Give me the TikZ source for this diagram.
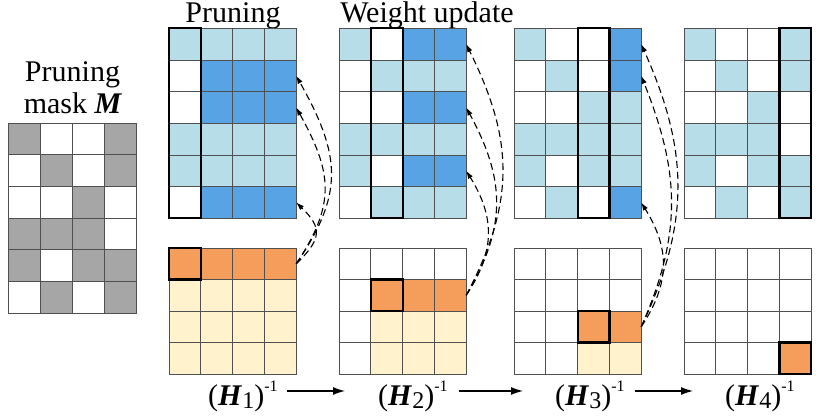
\documentclass[tikz,border=0pt]{standalone}
\usepackage{fontspec}
\setmainfont{Liberation Serif}
\usetikzlibrary{arrows.meta,calc}
\definecolor{cL}{HTML}{B7DDE8}
\definecolor{cD}{HTML}{58A3E4}
\definecolor{cW}{HTML}{FFFFFF}
\definecolor{cG}{HTML}{A6A6A6}
\definecolor{cO}{HTML}{F59E5B}
\definecolor{cC}{HTML}{FFF2CC}
\definecolor{gridc}{HTML}{505050}
% #1 x0, #2 y0, #3 cell width, #4 cell height, #5 rows of colour letters
\newcommand\cellgrid[5]{%
  \foreach \rowlist [count=\r] in {#5} {
    \foreach \c [count=\k] in \rowlist {
      \filldraw[cellline, fill=c\c] ({#1+(\k-1)*#3},{#2+(\r-1)*#4}) rectangle ++(#3,#4);
    }
  }
}
\newcommand\hlabel[1]{(\textbf{\textit{H}}\raisebox{-3pt}{\fontsize{24}{24}\selectfont #1})\raisebox{14pt}{\fontsize{16}{16}\selectfont -1}}
\begin{document}
\begin{tikzpicture}[x=1pt,y=-1pt,
  cellline/.style={draw=gridc,line width=0.7pt},
  boldbox/.style={draw=black,line width=2.2pt},
  upd/.style={dash pattern=on 7pt off 4pt,line width=1.1pt,-{Latex[length=8pt,width=5.5pt]}},
  harrow/.style={line width=1.2pt,-{Latex[length=12pt,width=8pt]}},
  lbl/.style={font=\fontsize{30}{32}\selectfont,inner sep=0pt}]
\useasboundingbox (0,0) rectangle (830,419);

% titles
\node[lbl,anchor=base] (tm1) at (72.5,82) {Pruning};
\node[lbl,anchor=base] (tm2) at (73,114) {mask \textbf{\textit{M}}};
\node[lbl,anchor=base] (tp) at (233,23) {Pruning};
\node[lbl,anchor=base] (tw) at (427,23) {Weight update};

% mask
\cellgrid{8}{123}{32}{31.67}{{G,W,W,G},{W,G,W,G},{W,W,G,W},{G,G,G,W},{G,W,G,G},{W,G,W,G}}

% top grids
\cellgrid{169}{28.3}{31.8}{31.67}{{L,L,L,L},{W,D,D,D},{W,D,D,D},{L,L,L,L},{L,L,L,L},{W,D,D,D}}
\cellgrid{339}{28.3}{31.8}{31.67}{{L,W,D,D},{W,L,L,L},{W,W,D,D},{L,L,L,L},{L,W,D,D},{W,L,L,L}}
\cellgrid{514}{28.3}{31.8}{31.67}{{L,W,W,D},{W,L,W,D},{W,W,L,L},{L,L,L,L},{L,W,L,L},{W,L,W,D}}
\cellgrid{684}{28.3}{31.8}{31.67}{{L,W,W,L},{W,L,W,L},{W,W,L,W},{L,L,L,W},{L,W,L,L},{W,L,W,L}}
\draw[boldbox] (169,28.3) rectangle ++(31.8,190);
\draw[boldbox] (370.8,28.3) rectangle ++(31.8,190);
\draw[boldbox] (577.6,28.3) rectangle ++(31.8,190);
\draw[boldbox] (779.4,28.3) rectangle ++(31.8,190);

% bottom grids
\cellgrid{169}{248}{31.8}{31.5}{{O,O,O,O},{C,C,C,C},{C,C,C,C},{C,C,C,C}}
\cellgrid{339}{248}{31.8}{31.5}{{W,W,W,W},{W,O,O,O},{W,C,C,C},{W,C,C,C}}
\cellgrid{514}{248}{31.8}{31.5}{{W,W,W,W},{W,W,W,W},{W,W,O,O},{W,W,C,C}}
\cellgrid{684}{248}{31.8}{31.5}{{W,W,W,W},{W,W,W,W},{W,W,W,W},{W,W,W,O}}
\draw[boldbox] (169,248) rectangle ++(31.8,31.5);
\draw[boldbox] (370.8,279.5) rectangle ++(31.8,31.5);
\draw[boldbox] (577.6,311) rectangle ++(31.8,31.5);
\draw[boldbox] (779.4,342.5) rectangle ++(31.8,31.5);

% arrow end points
\coordinate (s1) at (296.2,263.8);
\coordinate (a1) at (296.2,75.8);
\coordinate (b1) at (296.2,107.5);
\coordinate (c1) at (296.2,202.5);
\coordinate (s2) at (466.2,295.3);
\coordinate (a2) at (466.2,44.1);
\coordinate (b2) at (466.2,107.5);
\coordinate (c2) at (466.2,170.8);
\coordinate (s3) at (641.2,326.8);
\coordinate (a3) at (641.2,44.1);
\coordinate (b3) at (641.2,75.8);
\coordinate (c3) at (641.2,202.5);

\draw[upd] (s1) .. controls +(48,-70) and +(45,80) .. (a1);
\draw[upd] (s1) .. controls +(40,-60) and +(36,65) .. (b1);
\draw[upd] (s1) .. controls +(26,-25) and +(26,25) .. (c1);

\draw[upd] (s2) .. controls +(50,-95) and +(47,95) .. (a2);
\draw[upd] (s2) .. controls +(42,-70) and +(38,70) .. (b2);
\draw[upd] (s2) .. controls +(30,-45) and +(28,45) .. (c2);

\draw[upd] (s3) .. controls +(50,-105) and +(47,105) .. (a3);
\draw[upd] (s3) .. controls +(42,-95) and +(38,95) .. (b3);
\draw[upd] (s3) .. controls +(30,-45) and +(28,45) .. (c3);

% H labels
\node[lbl,anchor=base west] (h1) at (208,406) {\hlabel{1}};
\node[lbl,anchor=base west] (h2) at (378,406) {\hlabel{2}};
\node[lbl,anchor=base west] (h3) at (555,406) {\hlabel{3}};
\node[lbl,anchor=base west] (h4) at (725,406) {\hlabel{4}};
\draw[harrow] ($(h1.base east)+(9,-15)$) -- ($(h2.base west)+(-33,-15)$);
\draw[harrow] ($(h2.base east)+(11,-15)$) -- ($(h3.base west)+(-32,-15)$);
\draw[harrow] ($(h3.base east)+(10,-15)$) -- ($(h4.base west)+(-32,-15)$);
\end{tikzpicture}
\end{document}
